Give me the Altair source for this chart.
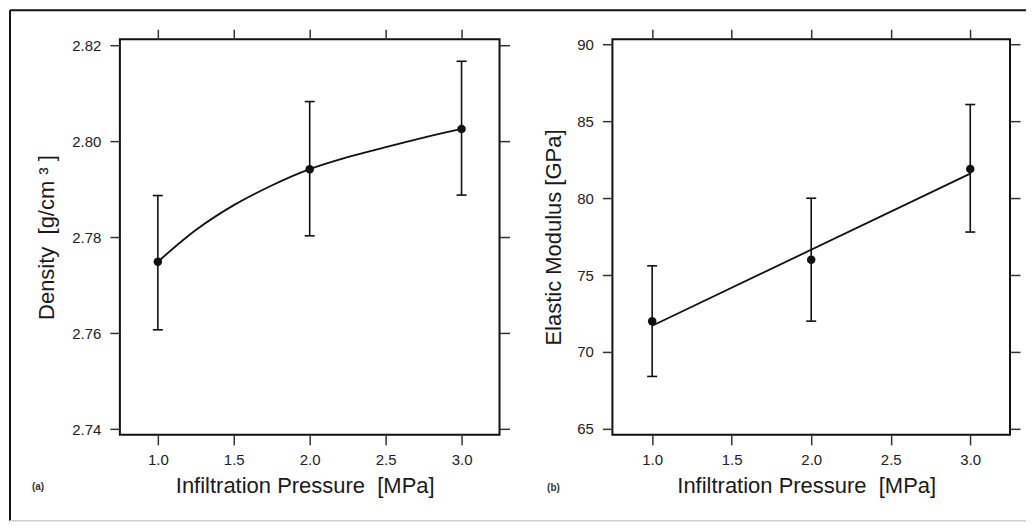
import altair as alt
import pandas as pd

# ---- data ----
pressure = [1.0, 2.0, 3.0]

density = [2.7749, 2.7942, 2.8026]
density_low = [2.7607, 2.7803, 2.7888]
density_high = [2.7887, 2.8083, 2.8167]
density_curve_x = [1.0, 1.25, 1.5, 1.75, 2.0, 2.25, 2.5, 2.75, 3.0]
density_curve_y = [2.7749, 2.7815, 2.7867, 2.7908, 2.7942, 2.7967, 2.7988, 2.8008, 2.8026]

modulus = [72.0, 76.0, 81.9]
modulus_low = [68.4, 72.0, 77.8]
modulus_high = [75.6, 80.0, 86.1]
modulus_fit_x = [1.0, 3.0]
modulus_fit_y = [71.7, 81.6]

x_ticks = [1.0, 1.5, 2.0, 2.5, 3.0]
density_ticks = [2.74, 2.76, 2.78, 2.80, 2.82]
modulus_ticks = [65, 70, 75, 80, 85, 90]

x_domain = [0.75, 3.25]
density_domain = [2.7388, 2.8213]
modulus_domain = [64.6, 90.35]

NB = "\u00a0"
x_title = "Infiltration Pressure" + NB + NB + "[MPa]"
density_title = "Density" + NB + NB + "[g/cm" + NB + "³" + NB + "]"
modulus_title = "Elastic Modulus [GPa]"

FONT = "Liberation Sans"
INK = "#111111"
H = 396


def panel(xv, yv, lo, hi, cx, cy, ydom, yticks, yfmt, ytitle, w, ytitle_x, tag, tag_x, tag_y, borders):
    pts = pd.DataFrame({"x": xv, "y": yv, "lo": lo, "hi": hi})
    curve = pd.DataFrame({"x": cx, "y": cy})
    xs = alt.Scale(domain=x_domain, nice=False, zero=False)
    ys = alt.Scale(domain=ydom, nice=False, zero=False)

    bars = alt.Chart(pts).mark_rule(color=INK, strokeWidth=1.6).encode(
        x=alt.X("x:Q", scale=xs, axis=None),
        y=alt.Y("lo:Q", scale=ys, axis=None),
        y2="hi:Q",
    )
    cap_hi = alt.Chart(pts).mark_rule(color=INK, strokeWidth=1.6, xOffset=-5, x2Offset=5).encode(
        x=alt.X("x:Q", scale=xs, axis=None),
        x2="x:Q",
        y=alt.Y("hi:Q", scale=ys, axis=None),
    )
    cap_lo = alt.Chart(pts).mark_rule(color=INK, strokeWidth=1.6, xOffset=-5, x2Offset=5).encode(
        x=alt.X("x:Q", scale=xs, axis=None),
        x2="x:Q",
        y=alt.Y("lo:Q", scale=ys, axis=None),
    )
    line = alt.Chart(curve).mark_line(color=INK, strokeWidth=1.8, interpolate="monotone").encode(
        x=alt.X("x:Q", scale=xs, axis=None),
        y=alt.Y("y:Q", scale=ys, axis=None),
    )
    dots = alt.Chart(pts).mark_circle(color=INK, opacity=1, size=72).encode(
        x=alt.X(
            "x:Q",
            scale=xs,
            axis=alt.Axis(
                orient="bottom",
                values=x_ticks,
                format=".1f",
                title=x_title,
                titleX=w / 2 - 5,
                titleY=51,
                titleBaseline="middle",
                labelPadding=8,
            ),
        ),
        y=alt.Y(
            "y:Q",
            scale=ys,
            axis=alt.Axis(
                orient="left",
                values=yticks,
                format=yfmt,
                title=ytitle,
                titleX=ytitle_x,
                titleY=H / 2,
                titleBaseline="middle",
                labelPadding=9,
            ),
        ),
    )
    mirror = alt.Chart(pts).mark_point(opacity=0).encode(
        x=alt.X("x:Q", scale=xs, axis=alt.Axis(orient="top", values=x_ticks, labels=False, title=None)),
        y=alt.Y("y:Q", scale=ys, axis=alt.Axis(orient="right", values=yticks, labels=False, title=None)),
    )
    tag_df = pd.DataFrame({"t": [tag]})
    tag_mark = alt.Chart(tag_df).mark_text(
        font=FONT, fontSize=10, fontWeight="bold", color="#333333", align="center", baseline="middle"
    ).encode(x=alt.value(tag_x), y=alt.value(tag_y), text="t:N")

    layers = [bars, cap_hi, cap_lo, line, dots, mirror, tag_mark]
    if borders:
        one = pd.DataFrame({"k": [0]})
        top = alt.Chart(one).mark_rule(color="#151515", strokeWidth=2).encode(
            x=alt.value(-110), x2=alt.value(907), y=alt.value(-29)
        )
        left = alt.Chart(one).mark_rule(color="#151515", strokeWidth=2).encode(
            x=alt.value(-110), y=alt.value(-29), y2=alt.value(482)
        )
        bottom = alt.Chart(one).mark_rule(color="#cfcfcf", strokeWidth=1.5).encode(
            x=alt.value(-110), x2=alt.value(907), y=alt.value(482)
        )
        layers += [top, left, bottom]
    return alt.layer(*layers).resolve_axis(x="independent", y="independent").properties(width=w, height=H)


pa = panel(pressure, density, density_low, density_high, density_curve_x, density_curve_y,
           density_domain, density_ticks, ".2f", density_title, 380, -73, "(a)", -82, 448, True)
pb = panel(pressure, modulus, modulus_low, modulus_high, modulus_fit_x, modulus_fit_y,
           modulus_domain, modulus_ticks, "d", modulus_title, 398, -59, "(b)", -59, 449, False)

chart = (
    alt.hconcat(pa, pb, spacing=113, bounds="flush")
    .properties(padding=0)
    .configure_view(stroke=INK, strokeWidth=2)
    .configure_axis(
        domain=False,
        grid=False,
        ticks=True,
        tickSize=10,
        tickWidth=1.5,
        tickColor="#333333",
        labelFont=FONT,
        labelFontSize=15,
        labelColor="#222222",
        labelFlush=False,
        labelOverlap=False,
        titleFont=FONT,
        titleFontSize=22,
        titleFontWeight="normal",
        titleColor="#1a1a1a",
    )
)

chart.save("out.html", embed_options={"renderer": "svg", "actions": False})
